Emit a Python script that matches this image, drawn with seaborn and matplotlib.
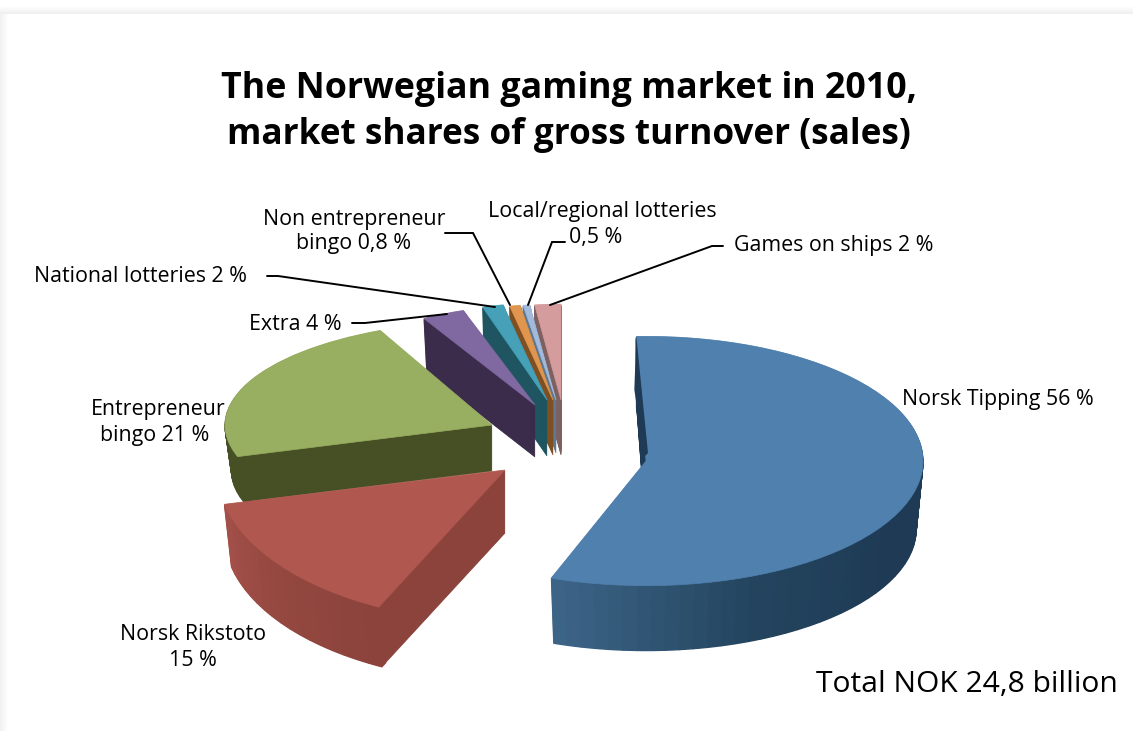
import numpy as np
import seaborn as sns
import matplotlib
matplotlib.use("Agg")
import matplotlib.pyplot as plt

# market shares as printed on the chart (they add up to a bit over 100)
segments = ["Norsk Tipping", "Norsk Rikstoto", "Entrepreneur bingo", "Extra",
            "National lotteries", "Non entrepreneur bingo",
            "Local/regional lotteries", "Games on ships"]
shares = [56, 15, 21, 4, 2, 0.8, 0.5, 2]

top_colors = ["#4f80ae", "#b0574f", "#98ae60", "#8068a0", "#45a0b8", "#e0964e", "#a2badc", "#d49c9c"]
cut_colors = ["#1e3a55", "#8b433c", "#465024", "#3a2c4a", "#1e5560", "#7f4f22", "#5f7890", "#7e6060"]
rim_stops = [["#1e3a55", "#1e3a55", "#1e3a55", "#1e3a55", "#24455f", "#3c6487"],
             ["#8b433c", "#94483f", "#a35049"],
             ["#465024", "#465024"], ["#3a2c4a", "#3a2c4a"], ["#1e5560", "#1e5560"],
             ["#7f4f22", "#7f4f22"], ["#5f7890", "#5f7890"], ["#7e6060", "#7e6060"]]

# placement of each pulled out slice, in pixels of the picture
apex_x = [646, 505, 492, 535, 547, 553, 556, 561]
apex_y = [461, 470, 425, 405, 400, 400, 400, 400]
radius = [277, 288, 267, 222, 216, 213, 213, 213]
squash = [0.45, 0.53, 0.39, 0.45, 0.45, 0.45, 0.45, 0.45]
depth = [68, 63, 46, 52, 56, 55, 53, 55]
# the perspective of the original bends the slice edges a little
lean_start = [2.0, -7.0, 0, -3, -1.5, 0, 0, 0]
lean_end = [1.0, 4.7, 8.3, 0, 0, 0, 0, 0]

W, H = 1133, 731
SHRINK = 0.025

sns.set_theme(style="white")
plt.rcParams["font.family"] = ["Open Sans", "DejaVu Sans"]

fig = plt.figure(figsize=(W / 100, H / 100), dpi=100, facecolor="white")
bg = fig.add_axes([0, 0, 1, 1])
bg.set_xlim(0, W)
bg.set_ylim(H, 0)
bg.axis("off")

# drop shadow of the page the chart sits on
for i in range(8):
    bg.axhspan(6 + i, 7 + i, color=str(0.995 - 0.008 * i), lw=0)
    bg.axvspan(i, i + 1, ymin=0, ymax=1 - 14 / H, color=str(0.945 + 0.007 * i), lw=0)

total = sum(shares)
angle = 90.0
starts = []
for s in shares:
    starts.append(angle)
    angle -= s / total * 360

for i in reversed(range(len(shares))):
    ax = fig.add_axes([0, 0, 1, 1])
    ax.patch.set_alpha(0)
    start = starts[i] + lean_start[i]
    frac = (shares[i] / total * 360 + lean_start[i] + lean_end[i]) / 360
    cx = apex_x[i]
    cy = (H - apex_y[i]) / squash[i]
    n_rim = max(2, int(frac * 120))
    rim_cols = sns.blend_palette(rim_stops[i], n_colors=n_rim)
    for d in range(depth[i], 0, -1):
        r = radius[i] * (1 - SHRINK * d / depth[i])
        y = cy - d / squash[i]
        ax.pie([frac], normalize=False, startangle=start, counterclock=False, radius=r - 4,
               center=(cx, y), colors=[cut_colors[i]], frame=True,
               wedgeprops=dict(linewidth=0.5, edgecolor=cut_colors[i]))
        rim, _ = ax.pie([frac / n_rim] * n_rim, normalize=False, startangle=start, counterclock=False,
                        radius=r, center=(cx, y), colors=rim_cols, frame=True,
                        wedgeprops=dict(width=9))
        for w in rim:
            w.set_edgecolor(w.get_facecolor())
            w.set_linewidth(1.0)
    ax.pie([frac], normalize=False, startangle=start, counterclock=False, radius=radius[i],
           center=(cx, cy), colors=[top_colors[i]], frame=True,
           wedgeprops=dict(linewidth=0.5, edgecolor=top_colors[i]))
    ax.set_aspect("auto")
    ax.set_xlim(0, W)
    ax.set_ylim(0, H / squash[i])
    ax.axis("off")

over = fig.add_axes([0, 0, 1, 1])
over.patch.set_alpha(0)
over.set_xlim(0, W)
over.set_ylim(H, 0)
over.axis("off")

# thin dark back face of the big slice
rim_x = apex_x[0] + radius[0] * np.cos(np.radians(starts[0] + lean_start[0]))
rim_y = apex_y[0] - radius[0] * squash[0] * np.sin(np.radians(starts[0] + lean_start[0]))
over.fill([rim_x, apex_x[0] + 2, apex_x[0] - 2, rim_x - 2],
          [rim_y, apex_y[0] - 8, apex_y[0] - 4, rim_y + 53], color=cut_colors[0], lw=0)

# leader lines
leaders = [([445, 473, 510], [233, 233, 305]),
           ([565, 552, 528], [242, 242, 305]),
           ([723, 712, 550], [246, 246, 305]),
           ([267, 278, 495], [276, 276, 307]),
           ([352, 365, 447], [323, 323, 314])]
for xs, ys in leaders:
    over.plot(xs, ys, color="black", lw=1.4, solid_joinstyle="miter")

title_lines = ["The Norwegian gaming market in 2010,", "market shares of gross turnover (sales)"]
title_sizes = [25.75, 25.3]
for txt, y, size in zip(title_lines, [89, 135], title_sizes):
    over.text(569, y, txt, ha="center", va="center", fontsize=size, fontweight="bold", color="black")

labels = [(354, 219, "Non entrepreneur", "center"), (354, 243, "bingo 0,8 %", "center"),
          (488, 211, "Local/regional lotteries", "left"), (596, 238, "0,5 %", "center"),
          (734, 245, "Games on ships 2 %", "left"), (34, 277, "National lotteries 2 %", "left"),
          (249, 324, "Extra 4 %", "left"), (158, 409, "Entrepreneur", "center"),
          (155, 435, "bingo 21 %", "center"), (193, 634, "Norsk Rikstoto", "center"),
          (193, 661, "15 %", "center"), (902, 399, "Norsk Tipping 56 %", "left")]
for x, y, txt, ha in labels:
    over.text(x, y, txt, ha=ha, va="center", fontsize=15.4, color="black")

over.text(816, 684, "Total NOK 24,8 billion", ha="left", va="center", fontsize=21.6, color="black")

fig.savefig("out.png", dpi=100, facecolor="white")
